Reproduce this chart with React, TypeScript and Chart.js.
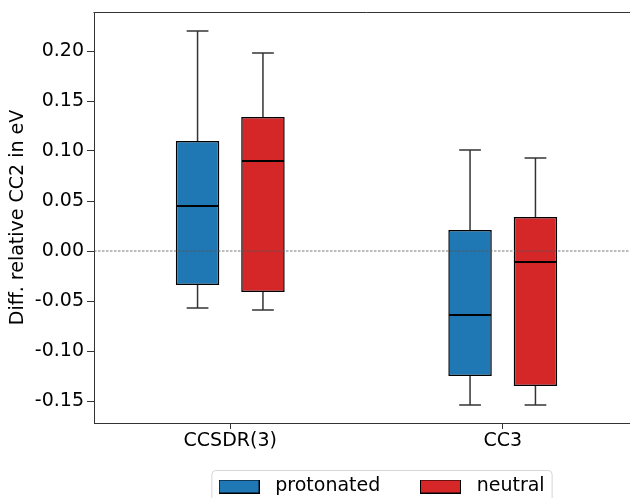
import React, { useEffect, useRef } from "react";
import { Chart, registerables } from "chart.js";

Chart.register(...registerables);

// ---- data ----
const categories = ["CCSDR(3)", "CC3"];
const seriesNames = ["protonated", "neutral"];
const seriesColors = ["#1f77b4", "#d62728"];

const protonatedMin = [-0.057, -0.154];
const protonatedQ1 = [-0.034, -0.125];
const protonatedMedian = [0.045, -0.064];
const protonatedQ3 = [0.110, 0.021];
const protonatedMax = [0.220, 0.101];

const neutralMin = [-0.059, -0.154];
const neutralQ1 = [-0.041, -0.135];
const neutralMedian = [0.090, -0.011];
const neutralQ3 = [0.134, 0.034];
const neutralMax = [0.198, 0.093];

const yTickValues = [-0.15, -0.1, -0.05, 0, 0.05, 0.1, 0.15, 0.2];
const referenceValue = 0;
const yAxisTitle = "Diff. relative CC2 in eV";

const FONT = "'DejaVu Sans', 'Liberation Sans', sans-serif";

export default function App() {
  const ref = useRef<HTMLCanvasElement>(null);

  useEffect(() => {
    const canvas = ref.current;
    if (!canvas) return;

    const stats = [
      { min: protonatedMin, q1: protonatedQ1, med: protonatedMedian, q3: protonatedQ3, max: protonatedMax },
      { min: neutralMin, q1: neutralQ1, med: neutralMedian, q3: neutralQ3, max: neutralMax },
    ];

    const makePatch = (color: string) => {
      const c = document.createElement("canvas");
      c.width = 41;
      c.height = 14;
      const g = c.getContext("2d")!;
      g.fillStyle = color;
      g.fillRect(0, 0, 41, 14);
      g.strokeStyle = "#000";
      g.lineWidth = 1;
      g.strokeRect(0.5, 0.5, 40, 13);
      return c;
    };
    const patches = seriesColors.map(makePatch);

    const legendPadding = 33.5;

    const extras = {
      id: "boxExtras",
      afterLayout(chart: any) {
        const L = chart.legend;
        if (L) {
          L.left += 12;
          L.right += 12;
          L.top -= 10;
          L.bottom -= 10;
        }
      },
      beforeDraw(chart: any) {
        const L = chart.legend;
        if (!L || !L.lineWidths) return;
        const ctx = chart.ctx;
        const P = legendPadding;
        const lw = L.lineWidths[0];
        const startX = (L.left + P + L.right - lw) / 2;
        const x0 = startX - 0.5;
        const x1 = startX + lw - P + 7.5;
        const y0 = L.top + P - 6.5;
        const y1 = L.top + P + 9.5 + 16;
        const r = 4;
        ctx.save();
        ctx.beginPath();
        ctx.moveTo(x0 + r, y0);
        ctx.lineTo(x1 - r, y0);
        ctx.arcTo(x1, y0, x1, y0 + r, r);
        ctx.lineTo(x1, y1 - r);
        ctx.arcTo(x1, y1, x1 - r, y1, r);
        ctx.lineTo(x0 + r, y1);
        ctx.arcTo(x0, y1, x0, y1 - r, r);
        ctx.lineTo(x0, y0 + r);
        ctx.arcTo(x0, y0, x0 + r, y0, r);
        ctx.closePath();
        ctx.fillStyle = "rgba(255,255,255,0.8)";
        ctx.fill();
        ctx.strokeStyle = "#d6d6d6";
        ctx.lineWidth = 1;
        ctx.stroke();
        ctx.restore();
      },
      afterDatasetsDraw(chart: any) {
        const ctx = chart.ctx;
        const ys = chart.scales.y;
        const area = chart.chartArea;
        ctx.save();
        const line = (ax: number, ay: number, bx: number, by: number) => {
          ctx.beginPath();
          ctx.moveTo(ax, ay);
          ctx.lineTo(bx, by);
          ctx.stroke();
        };
        stats.forEach((s, i) => {
          const meta = chart.getDatasetMeta(i);
          meta.data.forEach((bar: any, j: number) => {
            const { x, width } = bar.getProps(["x", "width"], true);
            const pMin = ys.getPixelForValue(s.min[j]);
            const pQ1 = ys.getPixelForValue(s.q1[j]);
            const pMed = ys.getPixelForValue(s.med[j]);
            const pQ3 = ys.getPixelForValue(s.q3[j]);
            const pMax = ys.getPixelForValue(s.max[j]);
            ctx.strokeStyle = "#333";
            ctx.lineWidth = 1.5;
            line(x, pQ3, x, pMax);
            line(x - width / 4, pMax, x + width / 4, pMax);
            line(x, pQ1, x, pMin);
            line(x - width / 4, pMin, x + width / 4, pMin);
            ctx.strokeStyle = "#000";
            ctx.lineWidth = 1.8;
            line(x - width / 2 + 0.8, pMed, x + width / 2 - 0.8, pMed);
          });
        });
        // dashed reference line
        const y0 = ys.getPixelForValue(referenceValue);
        ctx.setLineDash([2.5, 1.5]);
        ctx.strokeStyle = "#555";
        ctx.lineWidth = 0.8;
        line(area.left, y0, area.right, y0);
        ctx.setLineDash([]);
        // top spine
        ctx.strokeStyle = "#333";
        ctx.lineWidth = 1;
        line(area.left - 0.5, Math.round(area.top) + 0.5, area.right + 1, Math.round(area.top) + 0.5);
        ctx.restore();
      },
    };

    const chart = new Chart(canvas, {
      type: "bar",
      data: {
        labels: categories,
        datasets: seriesNames.map((name, i) => ({
          label: name,
          data: categories.map((_, j) => [stats[i].q1[j], stats[i].q3[j]]),
          backgroundColor: seriesColors[i],
          borderColor: "#000",
          borderWidth: 1.5,
          borderSkipped: false,
          categoryPercentage: 0.48,
          barPercentage: 0.665,
        })),
      },
      options: {
        responsive: false,
        maintainAspectRatio: false,
        devicePixelRatio: 1,
        animation: false,
        layout: { padding: { top: 12, right: 1, bottom: 0, left: 0 } },
        plugins: {
          tooltip: { enabled: false },
          title: { display: false },
          legend: {
            display: true,
            position: "bottom",
            fullSize: false,
            align: "center",
            labels: {
              color: "#000",
              font: { family: FONT, size: 19 },
              usePointStyle: true,
              pointStyleWidth: 53.4,
              padding: legendPadding,
              generateLabels: () =>
                seriesNames.map((name, i) => ({
                  text: name,
                  fillStyle: seriesColors[i],
                  strokeStyle: "#000",
                  lineWidth: 1,
                  hidden: false,
                  datasetIndex: i,
                  pointStyle: patches[i],
                  rotation: 0,
                })),
            },
          },
        },
        scales: {
          x: {
            type: "category",
            offset: true,
            grid: {
              display: true,
              drawOnChartArea: false,
              drawTicks: true,
              tickLength: 6,
              offset: false,
              color: "#333",
              lineWidth: 1,
            },
            border: { display: true, color: "#333", width: 1 },
            ticks: {
              color: "#000",
              font: { family: FONT, size: 19 },
              padding: 1,
              maxRotation: 0,
              autoSkip: false,
            },
            afterFit: (s: any) => {
              s.height = 30.5;
              s.paddingLeft = 0;
              s.paddingRight = 0;
            },
          },
          y: {
            type: "linear",
            min: -0.172,
            max: 0.239,
            grid: {
              display: true,
              drawOnChartArea: false,
              drawTicks: true,
              tickLength: 7,
              color: "#333",
              lineWidth: 1,
            },
            border: { display: true, color: "#333", width: 1 },
            ticks: {
              includeBounds: false,
              padding: 3,
              color: "#000",
              font: { family: FONT, size: 19 },
              callback: (v: any) => {
                const r = Math.round(Number(v) * 100) / 100;
                return (r === 0 ? 0 : r).toFixed(2);
              },
            },
            afterBuildTicks: (s: any) => {
              s.ticks = yTickValues.map((v) => ({ value: v }));
            },
            title: {
              display: true,
              text: yAxisTitle,
              color: "#000",
              font: { family: FONT, size: 19 },
              padding: { top: 7, bottom: 0 },
            },
            afterFit: (s: any) => {
              s.width = 94;
              s.paddingTop = 0;
              s.paddingBottom = 0;
            },
          },
        },
      },
      plugins: [extras],
    } as any);

    return () => {
      chart.destroy();
    };
  }, []);

  return (
    <div
      style={{
        position: "absolute",
        left: 0,
        top: 0,
        width: 630,
        height: 498,
        overflow: "hidden",
        background: "#fff",
      }}
    >
      <canvas ref={ref} width={640} height={516} style={{ display: "block", width: 640, height: 516 }} />
    </div>
  );
}
